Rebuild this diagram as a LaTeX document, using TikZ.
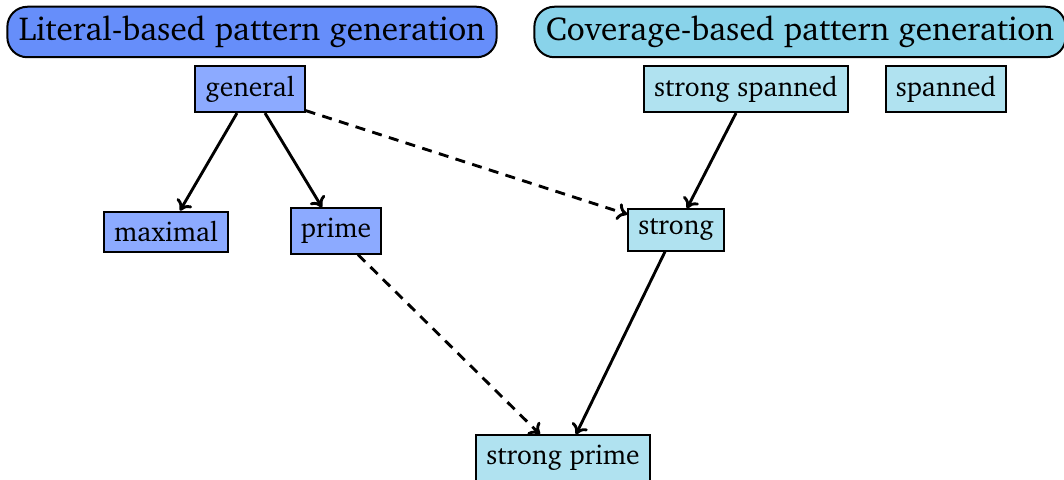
\documentclass[tikz,border=0pt]{standalone}
\usepackage[T1]{fontenc}
\usepackage{charter}
\usetikzlibrary{arrows.meta}
\definecolor{litHead}{RGB}{102,142,250}
\definecolor{litNode}{RGB}{140,170,255}
\definecolor{covHead}{RGB}{137,211,234}
\definecolor{covNode}{RGB}{176,226,240}
\tikzset{
  header/.style={draw=black, line width=0.8pt, rounded corners=8pt,
    inner xsep=4.6pt, minimum height=20.2pt, font=\fontsize{13.3}{16}\selectfont},
  concept/.style={draw=black, line width=0.8pt, inner xsep=4pt, inner ysep=4pt,
    font=\fontsize{11}{13}\selectfont},
  litbox/.style={concept, fill=litNode},
  covbox/.style={concept, fill=covNode},
  arr/.style={line width=1.15pt, -{To[length=4pt,width=7pt]}},
  darr/.style={arr, dash pattern=on 4pt off 3pt}
}
\begin{document}
\begin{tikzpicture}[x=0.4pt, y=-0.4pt]
  \useasboundingbox (0,0) rectangle (1064,479);

  % section headers
  \node[header, fill=litHead] (lithead) at (252,32) {Literal-based pattern generation};
  \node[header, fill=covHead] (covhead) at (800,32) {Coverage-based pattern generation};

  % literal-based patterns
  \node[litbox] (general) at (250,89) {general};
  \node[litbox] (maximal) at (166,232) {maximal};
  \node[litbox] (prime)   at (336,231) {prime};

  % coverage-based patterns
  \node[covbox] (strongspanned) at (746,89) {strong spanned};
  \node[covbox] (spanned)       at (946,89) {spanned};
  \node[covbox] (strong)        at (676,230) {strong};
  \node[covbox] (strongprime)   at (563,458) {strong prime};

  % implications
  \draw[arr] ([xshift=-5.2pt]general.south) -- ([xshift=5.6pt]maximal.north);
  \draw[arr] ([xshift=6pt]general.south) -- ([xshift=-5.6pt]prime.north);
  \draw[darr] ([yshift=1pt]general.south east) -- ([yshift=-2.4pt]strong.north west);
  \draw[arr] ([xshift=-4pt]strongspanned.south) -- ([xshift=4.4pt]strong.north);
  \draw[darr] ([xshift=8.8pt]prime.south) -- ([xshift=-9.2pt]strongprime.north);
  \draw[arr] ([xshift=-4.4pt]strong.south) -- ([xshift=5.2pt]strongprime.north);
\end{tikzpicture}
\end{document}
